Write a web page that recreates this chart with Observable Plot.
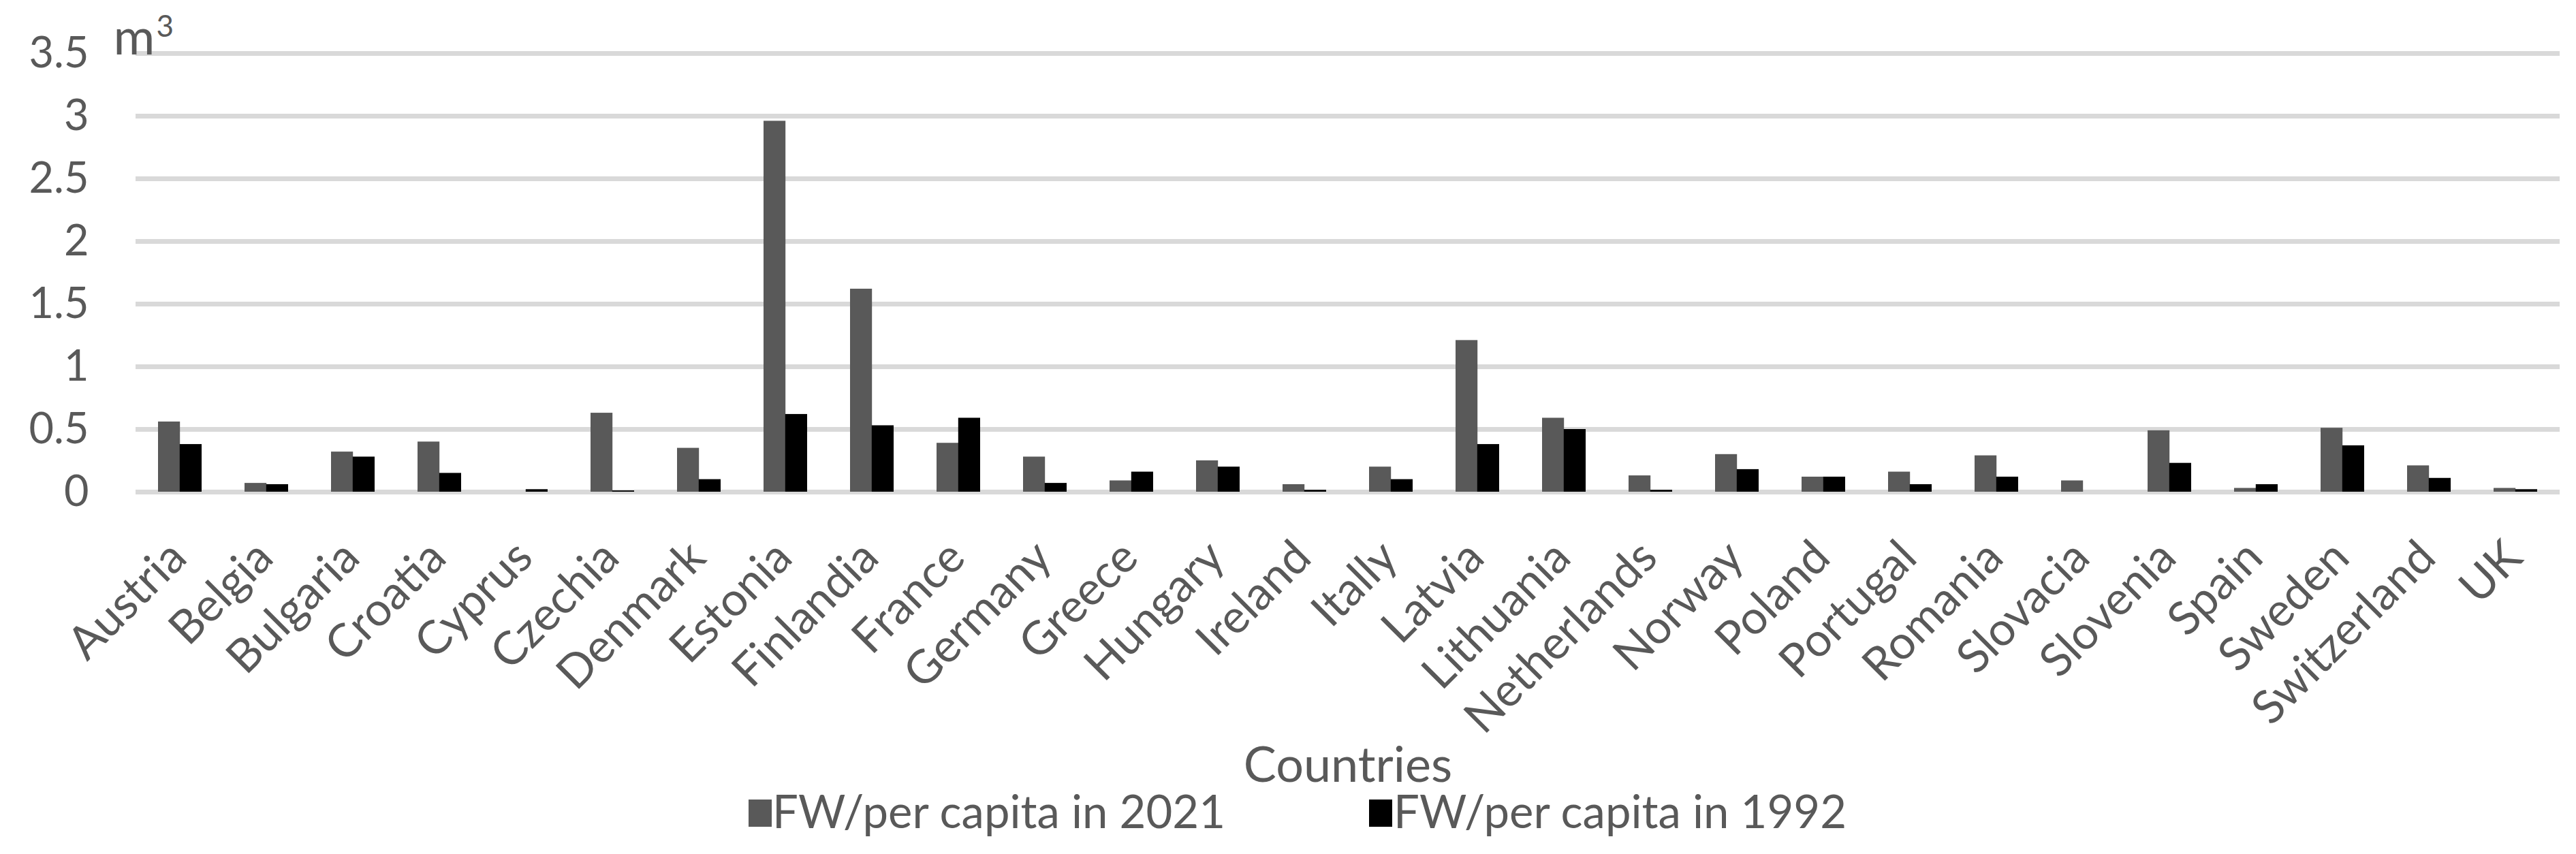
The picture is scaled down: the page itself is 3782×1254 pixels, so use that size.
<!DOCTYPE html>
<html>
<head>
<meta charset="utf-8">
<script src="https://cdn.jsdelivr.net/npm/d3@7"></script>
<script src="https://cdn.jsdelivr.net/npm/@observablehq/plot@0.6"></script>
<style>
  html, body { margin: 0; padding: 0; background: #ffffff; }
  #chart { position: relative; width: 3782px; height: 1254px; font-family: Lato, "Open Sans", sans-serif; color: #595959; }
  #legend { position: relative; height: 84px; }
  .sw { position: absolute; width: 34px; height: 40px; }
  .lt { position: absolute; font-size: 67px; line-height: 67px; white-space: nowrap; color: #595959; }
</style>
</head>
<body>
<div id="chart"></div>
<script>
const countries = ["Austria","Belgia","Bulgaria","Croatia","Cyprus","Czechia","Denmark","Estonia","Finlandia","France","Germany","Greece","Hungary","Ireland","Itally","Latvia","Lithuania","Netherlands","Norway","Poland","Portugal","Romania","Slovacia","Slovenia","Spain","Sweden","Switzerland","UK"];
const fw2021 = [0.56,0.07,0.32,0.40,0,0.63,0.35,2.96,1.62,0.39,0.28,0.09,0.25,0.06,0.20,1.21,0.59,0.13,0.30,0.12,0.16,0.29,0.09,0.49,0.03,0.51,0.21,0.03];
const fw1992 = [0.38,0.06,0.28,0.15,0.02,0.01,0.10,0.62,0.53,0.59,0.07,0.16,0.20,0.015,0.10,0.38,0.50,0.015,0.18,0.12,0.06,0.12,0,0.23,0.06,0.37,0.11,0.02];
const seriesNames = ["FW/per capita in 2021","FW/per capita in 1992"];
const seriesColors = ["#595959","#000000"];
const yTicks = [0,0.5,1,1.5,2,2.5,3,3.5];
const xTitle = "Countries";
const unitBase = "m";
const unitSup = "3";

const rows2021 = countries.map((c,i) => ({country:c, value:fw2021[i]}));
const rows1992 = countries.map((c,i) => ({country:c, value:fw1992[i]}));

const W = 3782, H = 1170;
const half = 31.8;

const chart = Plot.plot({
  width: W,
  height: H,
  marginTop: 78,
  marginBottom: H - 722,
  marginLeft: 199,
  marginRight: 24,
  style: {fontFamily: "Lato, 'Open Sans', sans-serif", color: "#595959", background: "#ffffff"},
  x: {domain: countries, paddingInner: 0.5, paddingOuter: 0.25, axis: null},
  y: {domain: [0, 3.5], axis: null},
  marks: [
    Plot.ruleY(yTicks, {stroke: "#d9d9d9", strokeWidth: 7}),
    Plot.barY(rows2021, {x: "country", y: "value", fill: seriesColors[0], insetRight: half}),
    Plot.barY(rows1992, {x: "country", y: "value", fill: seriesColors[1], insetLeft: half}),
    Plot.axisY({ticks: yTicks, tickSize: 0, tickPadding: 69, fontSize: 63, label: null, tickFormat: d => String(d)}),
    Plot.text(countries, {x: d => d, frameAnchor: "bottom", rotate: -45, textAnchor: "end", lineAnchor: "bottom", dx: 13, dy: 100, fontSize: 68, fill: "#595959"}),
    Plot.text([xTitle], {frameAnchor: "bottom", lineAnchor: "bottom", dy: 425, fontSize: 72, fill: "#595959"}),
    Plot.text([unitBase], {frameAnchor: "top-left", textAnchor: "start", lineAnchor: "bottom", dx: -33, dy: 1, fontSize: 74, fill: "#595959"}),
    Plot.text([unitSup], {frameAnchor: "top-left", textAnchor: "start", lineAnchor: "bottom", dx: 30, dy: -25, fontSize: 44, fill: "#595959"})
  ]
});
document.getElementById("chart").appendChild(chart);

const legend = document.createElement("div");
legend.id = "legend";
const legendPos = [{sq: 1099, tx: 1134}, {sq: 2010, tx: 2046}];
seriesNames.forEach((name, i) => {
  const sw = document.createElement("div");
  sw.className = "sw";
  sw.style.left = legendPos[i].sq + "px";
  sw.style.top = "4px";
  sw.style.background = seriesColors[i];
  legend.appendChild(sw);
  const t = document.createElement("div");
  t.className = "lt";
  t.style.left = legendPos[i].tx + "px";
  t.style.top = "-13px";
  t.textContent = name;
  legend.appendChild(t);
});
document.getElementById("chart").appendChild(legend);
</script>
</body>
</html>
